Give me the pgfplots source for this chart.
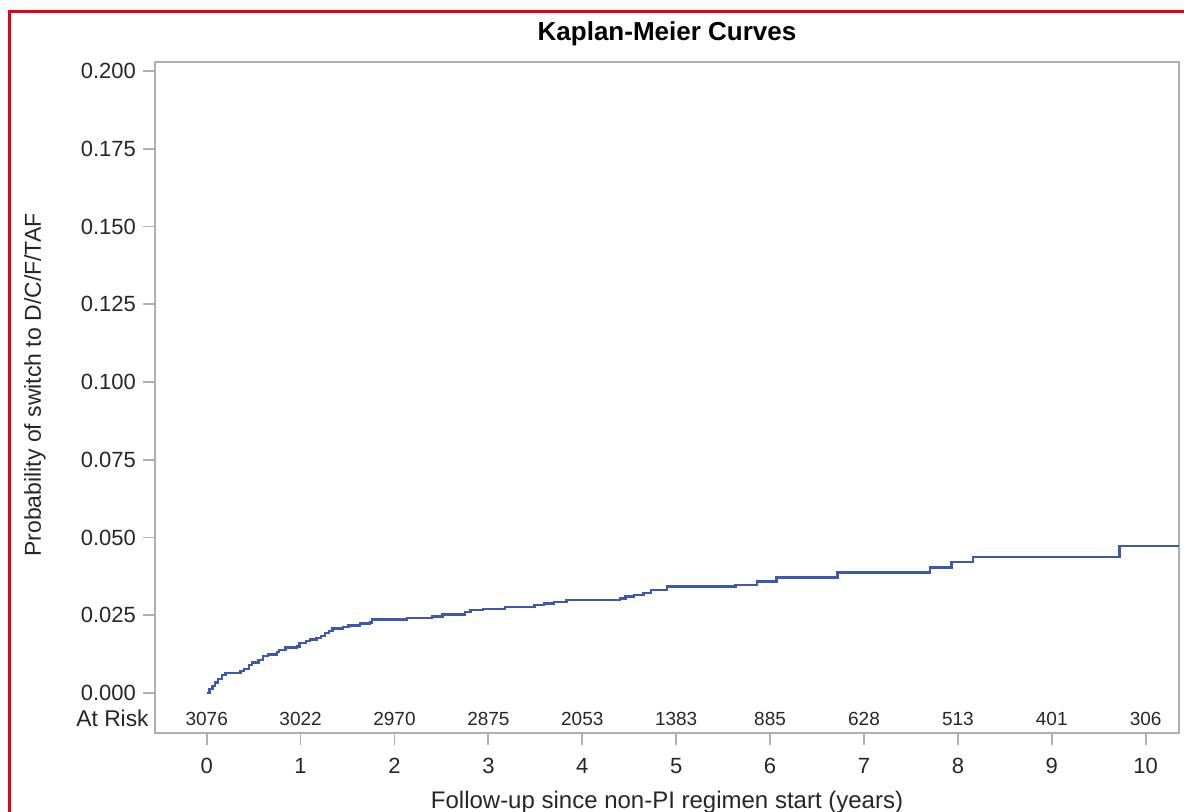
\documentclass[border=0pt]{standalone}
\usepackage{pgfplots}
\usepackage{pgfplotstable}
\pgfplotsset{compat=1.18}
\usepackage{fontspec}
\setmainfont{Liberation Sans}

\definecolor{kmblue}{RGB}{62,88,178}
\definecolor{framegray}{RGB}{172,176,180}
\definecolor{borderred}{RGB}{226,0,26}

% Kaplan-Meier step curve: years, probability
\pgfplotstableread{
t     p
0.00  0.0000
0.03  0.0012
0.06  0.0022
0.09  0.0034
0.12  0.0045
0.16  0.0057
0.20  0.0065
0.36  0.0070
0.40  0.0078
0.45  0.0090
0.48  0.0098
0.55  0.0106
0.60  0.0118
0.65  0.0124
0.75  0.0131
0.77  0.0138
0.84  0.0146
0.96  0.0150
0.99  0.0160
1.06  0.0168
1.10  0.0172
1.17  0.0177
1.22  0.0184
1.26  0.0192
1.30  0.0200
1.34  0.0207
1.45  0.0212
1.51  0.0217
1.63  0.0224
1.74  0.0227
1.76  0.0236
2.13  0.0241
2.40  0.0246
2.51  0.0253
2.75  0.0260
2.81  0.0266
2.94  0.0270
3.18  0.0277
3.49  0.0282
3.59  0.0288
3.70  0.0293
3.83  0.0299
4.40  0.0304
4.46  0.0310
4.55  0.0315
4.65  0.0321
4.73  0.0331
4.90  0.0342
5.63  0.0347
5.86  0.0358
6.07  0.0372
6.72  0.0388
7.70  0.0404
7.93  0.0422
8.16  0.0438
9.72  0.0473
10.36 0.0473
}\kmcurve

% number at risk
\pgfplotstableread{
t  n
0  3076
1  3022
2  2970
3  2875
4  2053
5  1383
6  885
7  628
8  513
9  401
10 306
}\atrisk

\begin{document}
\begin{tikzpicture}
\useasboundingbox (0,0) rectangle (592pt,406pt);
\draw[borderred, line width=1.6pt] (4.8pt,-2pt) -- (4.8pt,400.2pt) -- (596pt,400.2pt);
\begin{axis}[
  at={(77.5pt,39.5pt)}, anchor=south west,
  scale only axis, width=512pt, height=335.5pt,
  xmin=-0.5506, xmax=10.355,
  ymin=-0.01286, ymax=0.2029,
  axis line style={framegray, line width=0.9pt},
  tick pos=left, tick align=outside, major tick length=6pt,
  tick style={framegray, line width=0.9pt},
  xtick={0,1,2,3,4,5,6,7,8,9,10},
  ytick={0,0.025,0.05,0.075,0.1,0.125,0.15,0.175,0.2},
  yticklabels={0.000,0.025,0.050,0.075,0.100,0.125,0.150,0.175,0.200},
  /pgf/number format/assume math mode=true,
  ticklabel style={font=\fontsize{11}{13}\selectfont, text=black!85},
  xticklabel style={yshift=-3pt},
  clip=false,
]
\addplot[kmblue, line width=1.2pt, const plot] table[x=t, y=p] {\kmcurve};
\addplot[draw=none, mark=none, nodes near coords, point meta=explicit symbolic,
  every node near coord/.style={anchor=base, inner sep=0pt, font=\fontsize{9.5}{11}\selectfont, text=black!85}]
  table[x=t, y expr=-0.0103, meta=n] {\atrisk};
\end{axis}
\node[anchor=base east, inner sep=0pt, font=\fontsize{11.4}{13}\selectfont, text=black!85] at (74.5pt,42.5pt) {At Risk};
\node[anchor=base, inner sep=0pt, font=\bfseries\fontsize{13}{15}\selectfont] at (333.5pt,385.5pt) {Kaplan-Meier Curves};
\node[anchor=base, inner sep=0pt, font=\fontsize{12}{14}\selectfont, text=black!85] at (333.5pt,1.5pt) {Follow-up since non-PI regimen start (years)};
\node[rotate=90, inner sep=0pt, font=\fontsize{11.5}{13}\selectfont, text=black!85] at (17.5pt,213.5pt) {Probability of switch to D/C/F/TAF};
\end{tikzpicture}
\end{document}
